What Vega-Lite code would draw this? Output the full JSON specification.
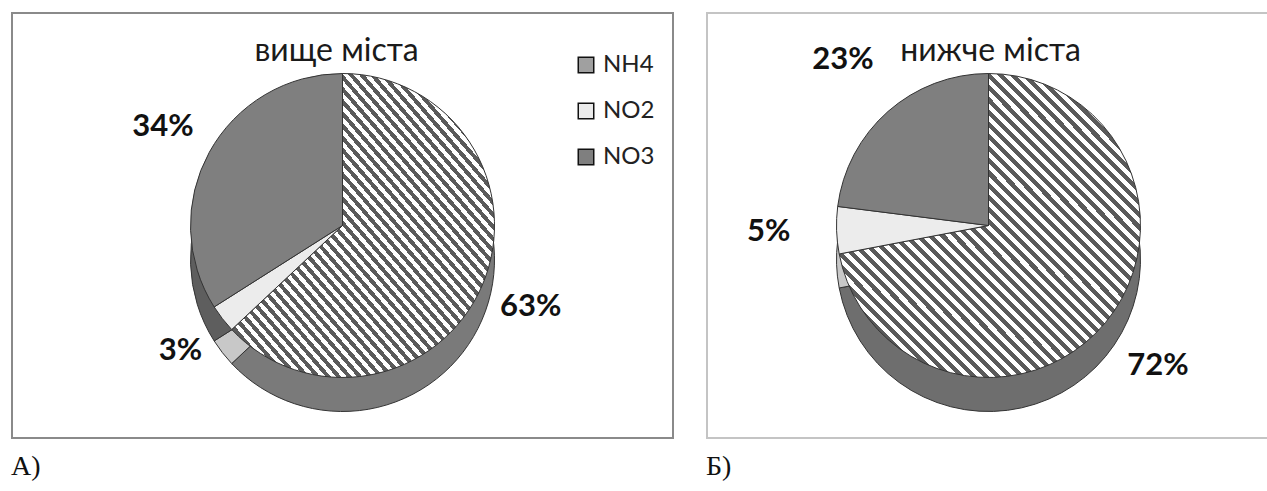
{
  "$schema": "https://vega.github.io/schema/vega-lite/v6.json",
  "padding": {"left": 11, "top": 12, "right": 0, "bottom": 0},
  "autosize": {"type": "pad"},
  "background": "white",
  "spacing": 32,
  "datasets": {
    "above": [
      {"k": "NH4", "v": 63, "label": "63%"},
      {"k": "NO2", "v": 3, "label": "3%"},
      {"k": "NO3", "v": 34, "label": "34%"}
    ],
    "below": [
      {"k": "NH4", "v": 72, "label": "72%"},
      {"k": "NO2", "v": 5, "label": "5%"},
      {"k": "NO3", "v": 23, "label": "23%"}
    ]
  },
  "config": {
    "font": "Lato",
    "legend": {
      "orient": "none",
      "title": null,
      "labelFont": "Lato",
      "labelFontSize": 24,
      "labelColor": "#222",
      "symbolType": "square",
      "symbolSize": 240,
      "symbolStrokeColor": "#111",
      "symbolStrokeWidth": 1.5,
      "rowPadding": 22,
      "labelOffset": 5
    },
    "title": {"font": "Lato", "fontWeight": "normal", "color": "#1a1a1a"}
  },
  "hconcat": [
    {
      "title": {"text": "А)", "orient": "bottom", "anchor": "start", "offset": 14, "font": "Liberation Serif", "fontSize": 28, "fontWeight": "normal", "color": "#111"},
      "vconcat": [
        {
          "width": 661,
          "height": 425,
          "view": {"stroke": "#8a8a8a", "strokeWidth": 2},
          "title": {"text": "вище міста", "orient": "top", "anchor": "middle", "offset": -55, "fontSize": 32, "dx": -6},
          "data": {"name": "above"},
          "layer": [
            {
              "mark": {"type": "arc", "radius": 152, "yOffset": 34, "stroke": "#333", "strokeWidth": 1},
              "encoding": {
                "theta": {"field": "v", "type": "quantitative", "stack": true},
                "order": {"field": "k", "type": "ordinal"},
                "fill": {
                  "condition": [
                    {"test": "datum.k === 'NH4'", "value": "#7a7a7a"},
                    {"test": "datum.k === 'NO2'", "value": "#c8c8c8"}
                  ],
                  "value": "#5e5e5e"
                }
              }
            },
            {
              "mark": {"type": "arc", "radius": 152, "stroke": "#333", "strokeWidth": 1},
              "encoding": {
                "theta": {"field": "v", "type": "quantitative", "stack": true},
                "order": {"field": "k", "type": "ordinal"},
                "fill": {
                  "condition": {"test": "datum.k === 'NH4'", "value": {"gradient": "linear", "x1": 0, "y1": 1, "x2": 1, "y2": 0, "stops": [
{"offset":0,"color":"#5a5a5a"},{"offset":0.01,"color":"#5a5a5a"},{"offset":0.01,"color":"#fff"},{"offset":0.02,"color":"#fff"},
{"offset":0.02,"color":"#5a5a5a"},{"offset":0.03,"color":"#5a5a5a"},{"offset":0.03,"color":"#fff"},{"offset":0.04,"color":"#fff"},
{"offset":0.04,"color":"#5a5a5a"},{"offset":0.05,"color":"#5a5a5a"},{"offset":0.05,"color":"#fff"},{"offset":0.06,"color":"#fff"},
{"offset":0.06,"color":"#5a5a5a"},{"offset":0.07,"color":"#5a5a5a"},{"offset":0.07,"color":"#fff"},{"offset":0.08,"color":"#fff"},
{"offset":0.08,"color":"#5a5a5a"},{"offset":0.09,"color":"#5a5a5a"},{"offset":0.09,"color":"#fff"},{"offset":0.1,"color":"#fff"},
{"offset":0.1,"color":"#5a5a5a"},{"offset":0.11,"color":"#5a5a5a"},{"offset":0.11,"color":"#fff"},{"offset":0.12,"color":"#fff"},
{"offset":0.12,"color":"#5a5a5a"},{"offset":0.13,"color":"#5a5a5a"},{"offset":0.13,"color":"#fff"},{"offset":0.14,"color":"#fff"},
{"offset":0.14,"color":"#5a5a5a"},{"offset":0.15,"color":"#5a5a5a"},{"offset":0.15,"color":"#fff"},{"offset":0.16,"color":"#fff"},
{"offset":0.16,"color":"#5a5a5a"},{"offset":0.17,"color":"#5a5a5a"},{"offset":0.17,"color":"#fff"},{"offset":0.18,"color":"#fff"},
{"offset":0.18,"color":"#5a5a5a"},{"offset":0.19,"color":"#5a5a5a"},{"offset":0.19,"color":"#fff"},{"offset":0.2,"color":"#fff"},
{"offset":0.2,"color":"#5a5a5a"},{"offset":0.21,"color":"#5a5a5a"},{"offset":0.21,"color":"#fff"},{"offset":0.22,"color":"#fff"},
{"offset":0.22,"color":"#5a5a5a"},{"offset":0.23,"color":"#5a5a5a"},{"offset":0.23,"color":"#fff"},{"offset":0.24,"color":"#fff"},
{"offset":0.24,"color":"#5a5a5a"},{"offset":0.25,"color":"#5a5a5a"},{"offset":0.25,"color":"#fff"},{"offset":0.26,"color":"#fff"},
{"offset":0.26,"color":"#5a5a5a"},{"offset":0.27,"color":"#5a5a5a"},{"offset":0.27,"color":"#fff"},{"offset":0.28,"color":"#fff"},
{"offset":0.28,"color":"#5a5a5a"},{"offset":0.29,"color":"#5a5a5a"},{"offset":0.29,"color":"#fff"},{"offset":0.3,"color":"#fff"},
{"offset":0.3,"color":"#5a5a5a"},{"offset":0.31,"color":"#5a5a5a"},{"offset":0.31,"color":"#fff"},{"offset":0.32,"color":"#fff"},
{"offset":0.32,"color":"#5a5a5a"},{"offset":0.33,"color":"#5a5a5a"},{"offset":0.33,"color":"#fff"},{"offset":0.34,"color":"#fff"},
{"offset":0.34,"color":"#5a5a5a"},{"offset":0.35,"color":"#5a5a5a"},{"offset":0.35,"color":"#fff"},{"offset":0.36,"color":"#fff"},
{"offset":0.36,"color":"#5a5a5a"},{"offset":0.37,"color":"#5a5a5a"},{"offset":0.37,"color":"#fff"},{"offset":0.38,"color":"#fff"},
{"offset":0.38,"color":"#5a5a5a"},{"offset":0.39,"color":"#5a5a5a"},{"offset":0.39,"color":"#fff"},{"offset":0.4,"color":"#fff"},
{"offset":0.4,"color":"#5a5a5a"},{"offset":0.41,"color":"#5a5a5a"},{"offset":0.41,"color":"#fff"},{"offset":0.42,"color":"#fff"},
{"offset":0.42,"color":"#5a5a5a"},{"offset":0.43,"color":"#5a5a5a"},{"offset":0.43,"color":"#fff"},{"offset":0.44,"color":"#fff"},
{"offset":0.44,"color":"#5a5a5a"},{"offset":0.45,"color":"#5a5a5a"},{"offset":0.45,"color":"#fff"},{"offset":0.46,"color":"#fff"},
{"offset":0.46,"color":"#5a5a5a"},{"offset":0.47,"color":"#5a5a5a"},{"offset":0.47,"color":"#fff"},{"offset":0.48,"color":"#fff"},
{"offset":0.48,"color":"#5a5a5a"},{"offset":0.49,"color":"#5a5a5a"},{"offset":0.49,"color":"#fff"},{"offset":0.5,"color":"#fff"},
{"offset":0.5,"color":"#5a5a5a"},{"offset":0.51,"color":"#5a5a5a"},{"offset":0.51,"color":"#fff"},{"offset":0.52,"color":"#fff"},
{"offset":0.52,"color":"#5a5a5a"},{"offset":0.53,"color":"#5a5a5a"},{"offset":0.53,"color":"#fff"},{"offset":0.54,"color":"#fff"},
{"offset":0.54,"color":"#5a5a5a"},{"offset":0.55,"color":"#5a5a5a"},{"offset":0.55,"color":"#fff"},{"offset":0.56,"color":"#fff"},
{"offset":0.56,"color":"#5a5a5a"},{"offset":0.57,"color":"#5a5a5a"},{"offset":0.57,"color":"#fff"},{"offset":0.58,"color":"#fff"},
{"offset":0.58,"color":"#5a5a5a"},{"offset":0.59,"color":"#5a5a5a"},{"offset":0.59,"color":"#fff"},{"offset":0.6,"color":"#fff"},
{"offset":0.6,"color":"#5a5a5a"},{"offset":0.61,"color":"#5a5a5a"},{"offset":0.61,"color":"#fff"},{"offset":0.62,"color":"#fff"},
{"offset":0.62,"color":"#5a5a5a"},{"offset":0.63,"color":"#5a5a5a"},{"offset":0.63,"color":"#fff"},{"offset":0.64,"color":"#fff"},
{"offset":0.64,"color":"#5a5a5a"},{"offset":0.65,"color":"#5a5a5a"},{"offset":0.65,"color":"#fff"},{"offset":0.66,"color":"#fff"},
{"offset":0.66,"color":"#5a5a5a"},{"offset":0.67,"color":"#5a5a5a"},{"offset":0.67,"color":"#fff"},{"offset":0.68,"color":"#fff"},
{"offset":0.68,"color":"#5a5a5a"},{"offset":0.69,"color":"#5a5a5a"},{"offset":0.69,"color":"#fff"},{"offset":0.7,"color":"#fff"},
{"offset":0.7,"color":"#5a5a5a"},{"offset":0.71,"color":"#5a5a5a"},{"offset":0.71,"color":"#fff"},{"offset":0.72,"color":"#fff"},
{"offset":0.72,"color":"#5a5a5a"},{"offset":0.73,"color":"#5a5a5a"},{"offset":0.73,"color":"#fff"},{"offset":0.74,"color":"#fff"},
{"offset":0.74,"color":"#5a5a5a"},{"offset":0.75,"color":"#5a5a5a"},{"offset":0.75,"color":"#fff"},{"offset":0.76,"color":"#fff"},
{"offset":0.76,"color":"#5a5a5a"},{"offset":0.77,"color":"#5a5a5a"},{"offset":0.77,"color":"#fff"},{"offset":0.78,"color":"#fff"},
{"offset":0.78,"color":"#5a5a5a"},{"offset":0.79,"color":"#5a5a5a"},{"offset":0.79,"color":"#fff"},{"offset":0.8,"color":"#fff"},
{"offset":0.8,"color":"#5a5a5a"},{"offset":0.81,"color":"#5a5a5a"},{"offset":0.81,"color":"#fff"},{"offset":0.82,"color":"#fff"},
{"offset":0.82,"color":"#5a5a5a"},{"offset":0.83,"color":"#5a5a5a"},{"offset":0.83,"color":"#fff"},{"offset":0.84,"color":"#fff"},
{"offset":0.84,"color":"#5a5a5a"},{"offset":0.85,"color":"#5a5a5a"},{"offset":0.85,"color":"#fff"},{"offset":0.86,"color":"#fff"},
{"offset":0.86,"color":"#5a5a5a"},{"offset":0.87,"color":"#5a5a5a"},{"offset":0.87,"color":"#fff"},{"offset":0.88,"color":"#fff"},
{"offset":0.88,"color":"#5a5a5a"},{"offset":0.89,"color":"#5a5a5a"},{"offset":0.89,"color":"#fff"},{"offset":0.9,"color":"#fff"},
{"offset":0.9,"color":"#5a5a5a"},{"offset":0.91,"color":"#5a5a5a"},{"offset":0.91,"color":"#fff"},{"offset":0.92,"color":"#fff"},
{"offset":0.92,"color":"#5a5a5a"},{"offset":0.93,"color":"#5a5a5a"},{"offset":0.93,"color":"#fff"},{"offset":0.94,"color":"#fff"},
{"offset":0.94,"color":"#5a5a5a"},{"offset":0.95,"color":"#5a5a5a"},{"offset":0.95,"color":"#fff"},{"offset":0.96,"color":"#fff"},
{"offset":0.96,"color":"#5a5a5a"},{"offset":0.97,"color":"#5a5a5a"},{"offset":0.97,"color":"#fff"},{"offset":0.98,"color":"#fff"},
{"offset":0.98,"color":"#5a5a5a"},{"offset":0.99,"color":"#5a5a5a"},{"offset":0.99,"color":"#fff"},{"offset":1,"color":"#fff"}
                  ]}},
                  "field": "k",
                  "type": "nominal",
                  "scale": {"domain": ["NH4", "NO2", "NO3"], "range": ["#a0a0a0", "#ececec", "#7f7f7f"]},
                  "legend": {"legendX": 562, "legendY": 40}
                }
              }
            },
            {
              "mark": {"type": "text", "radius": 205, "font": "Lato", "fontSize": 31, "fontWeight": "bold", "fill": "#111"},
              "encoding": {
                "theta": {"field": "v", "type": "quantitative", "stack": true},
                "order": {"field": "k", "type": "ordinal"},
                "text": {"field": "label"}
              }
            }
          ]
        }
      ]
    },
    {
      "title": {"text": "Б)", "orient": "bottom", "anchor": "start", "offset": 14, "font": "Liberation Serif", "fontSize": 28, "fontWeight": "normal", "color": "#111"},
      "vconcat": [
        {
          "width": 563,
          "height": 425,
          "view": {"stroke": "#c4c4c4", "strokeWidth": 2},
          "title": {"text": "нижче міста", "orient": "top", "anchor": "middle", "offset": -55, "fontSize": 32, "dx": 2},
          "data": {"name": "below"},
          "layer": [
            {
              "mark": {"type": "arc", "radius": 152, "yOffset": 34, "stroke": "#333", "strokeWidth": 1},
              "encoding": {
                "theta": {"field": "v", "type": "quantitative", "stack": true},
                "order": {"field": "k", "type": "ordinal"},
                "fill": {
                  "condition": [
                    {"test": "datum.k === 'NH4'", "value": "#6e6e6e"},
                    {"test": "datum.k === 'NO2'", "value": "#c8c8c8"}
                  ],
                  "value": "#5e5e5e"
                }
              }
            },
            {
              "mark": {"type": "arc", "radius": 152, "stroke": "#333", "strokeWidth": 1},
              "encoding": {
                "theta": {"field": "v", "type": "quantitative", "stack": true},
                "order": {"field": "k", "type": "ordinal"},
                "fill": {
                  "condition": {"test": "datum.k === 'NH4'", "value": {"gradient": "linear", "x1": 0, "y1": 1, "x2": 1, "y2": 0, "stops": [
{"offset":0,"color":"#5a5a5a"},{"offset":0.01,"color":"#5a5a5a"},{"offset":0.01,"color":"#fff"},{"offset":0.02,"color":"#fff"},
{"offset":0.02,"color":"#5a5a5a"},{"offset":0.03,"color":"#5a5a5a"},{"offset":0.03,"color":"#fff"},{"offset":0.04,"color":"#fff"},
{"offset":0.04,"color":"#5a5a5a"},{"offset":0.05,"color":"#5a5a5a"},{"offset":0.05,"color":"#fff"},{"offset":0.06,"color":"#fff"},
{"offset":0.06,"color":"#5a5a5a"},{"offset":0.07,"color":"#5a5a5a"},{"offset":0.07,"color":"#fff"},{"offset":0.08,"color":"#fff"},
{"offset":0.08,"color":"#5a5a5a"},{"offset":0.09,"color":"#5a5a5a"},{"offset":0.09,"color":"#fff"},{"offset":0.1,"color":"#fff"},
{"offset":0.1,"color":"#5a5a5a"},{"offset":0.11,"color":"#5a5a5a"},{"offset":0.11,"color":"#fff"},{"offset":0.12,"color":"#fff"},
{"offset":0.12,"color":"#5a5a5a"},{"offset":0.13,"color":"#5a5a5a"},{"offset":0.13,"color":"#fff"},{"offset":0.14,"color":"#fff"},
{"offset":0.14,"color":"#5a5a5a"},{"offset":0.15,"color":"#5a5a5a"},{"offset":0.15,"color":"#fff"},{"offset":0.16,"color":"#fff"},
{"offset":0.16,"color":"#5a5a5a"},{"offset":0.17,"color":"#5a5a5a"},{"offset":0.17,"color":"#fff"},{"offset":0.18,"color":"#fff"},
{"offset":0.18,"color":"#5a5a5a"},{"offset":0.19,"color":"#5a5a5a"},{"offset":0.19,"color":"#fff"},{"offset":0.2,"color":"#fff"},
{"offset":0.2,"color":"#5a5a5a"},{"offset":0.21,"color":"#5a5a5a"},{"offset":0.21,"color":"#fff"},{"offset":0.22,"color":"#fff"},
{"offset":0.22,"color":"#5a5a5a"},{"offset":0.23,"color":"#5a5a5a"},{"offset":0.23,"color":"#fff"},{"offset":0.24,"color":"#fff"},
{"offset":0.24,"color":"#5a5a5a"},{"offset":0.25,"color":"#5a5a5a"},{"offset":0.25,"color":"#fff"},{"offset":0.26,"color":"#fff"},
{"offset":0.26,"color":"#5a5a5a"},{"offset":0.27,"color":"#5a5a5a"},{"offset":0.27,"color":"#fff"},{"offset":0.28,"color":"#fff"},
{"offset":0.28,"color":"#5a5a5a"},{"offset":0.29,"color":"#5a5a5a"},{"offset":0.29,"color":"#fff"},{"offset":0.3,"color":"#fff"},
{"offset":0.3,"color":"#5a5a5a"},{"offset":0.31,"color":"#5a5a5a"},{"offset":0.31,"color":"#fff"},{"offset":0.32,"color":"#fff"},
{"offset":0.32,"color":"#5a5a5a"},{"offset":0.33,"color":"#5a5a5a"},{"offset":0.33,"color":"#fff"},{"offset":0.34,"color":"#fff"},
{"offset":0.34,"color":"#5a5a5a"},{"offset":0.35,"color":"#5a5a5a"},{"offset":0.35,"color":"#fff"},{"offset":0.36,"color":"#fff"},
{"offset":0.36,"color":"#5a5a5a"},{"offset":0.37,"color":"#5a5a5a"},{"offset":0.37,"color":"#fff"},{"offset":0.38,"color":"#fff"},
{"offset":0.38,"color":"#5a5a5a"},{"offset":0.39,"color":"#5a5a5a"},{"offset":0.39,"color":"#fff"},{"offset":0.4,"color":"#fff"},
{"offset":0.4,"color":"#5a5a5a"},{"offset":0.41,"color":"#5a5a5a"},{"offset":0.41,"color":"#fff"},{"offset":0.42,"color":"#fff"},
{"offset":0.42,"color":"#5a5a5a"},{"offset":0.43,"color":"#5a5a5a"},{"offset":0.43,"color":"#fff"},{"offset":0.44,"color":"#fff"},
{"offset":0.44,"color":"#5a5a5a"},{"offset":0.45,"color":"#5a5a5a"},{"offset":0.45,"color":"#fff"},{"offset":0.46,"color":"#fff"},
{"offset":0.46,"color":"#5a5a5a"},{"offset":0.47,"color":"#5a5a5a"},{"offset":0.47,"color":"#fff"},{"offset":0.48,"color":"#fff"},
{"offset":0.48,"color":"#5a5a5a"},{"offset":0.49,"color":"#5a5a5a"},{"offset":0.49,"color":"#fff"},{"offset":0.5,"color":"#fff"},
{"offset":0.5,"color":"#5a5a5a"},{"offset":0.51,"color":"#5a5a5a"},{"offset":0.51,"color":"#fff"},{"offset":0.52,"color":"#fff"},
{"offset":0.52,"color":"#5a5a5a"},{"offset":0.53,"color":"#5a5a5a"},{"offset":0.53,"color":"#fff"},{"offset":0.54,"color":"#fff"},
{"offset":0.54,"color":"#5a5a5a"},{"offset":0.55,"color":"#5a5a5a"},{"offset":0.55,"color":"#fff"},{"offset":0.56,"color":"#fff"},
{"offset":0.56,"color":"#5a5a5a"},{"offset":0.57,"color":"#5a5a5a"},{"offset":0.57,"color":"#fff"},{"offset":0.58,"color":"#fff"},
{"offset":0.58,"color":"#5a5a5a"},{"offset":0.59,"color":"#5a5a5a"},{"offset":0.59,"color":"#fff"},{"offset":0.6,"color":"#fff"},
{"offset":0.6,"color":"#5a5a5a"},{"offset":0.61,"color":"#5a5a5a"},{"offset":0.61,"color":"#fff"},{"offset":0.62,"color":"#fff"},
{"offset":0.62,"color":"#5a5a5a"},{"offset":0.63,"color":"#5a5a5a"},{"offset":0.63,"color":"#fff"},{"offset":0.64,"color":"#fff"},
{"offset":0.64,"color":"#5a5a5a"},{"offset":0.65,"color":"#5a5a5a"},{"offset":0.65,"color":"#fff"},{"offset":0.66,"color":"#fff"},
{"offset":0.66,"color":"#5a5a5a"},{"offset":0.67,"color":"#5a5a5a"},{"offset":0.67,"color":"#fff"},{"offset":0.68,"color":"#fff"},
{"offset":0.68,"color":"#5a5a5a"},{"offset":0.69,"color":"#5a5a5a"},{"offset":0.69,"color":"#fff"},{"offset":0.7,"color":"#fff"},
{"offset":0.7,"color":"#5a5a5a"},{"offset":0.71,"color":"#5a5a5a"},{"offset":0.71,"color":"#fff"},{"offset":0.72,"color":"#fff"},
{"offset":0.72,"color":"#5a5a5a"},{"offset":0.73,"color":"#5a5a5a"},{"offset":0.73,"color":"#fff"},{"offset":0.74,"color":"#fff"},
{"offset":0.74,"color":"#5a5a5a"},{"offset":0.75,"color":"#5a5a5a"},{"offset":0.75,"color":"#fff"},{"offset":0.76,"color":"#fff"},
{"offset":0.76,"color":"#5a5a5a"},{"offset":0.77,"color":"#5a5a5a"},{"offset":0.77,"color":"#fff"},{"offset":0.78,"color":"#fff"},
{"offset":0.78,"color":"#5a5a5a"},{"offset":0.79,"color":"#5a5a5a"},{"offset":0.79,"color":"#fff"},{"offset":0.8,"color":"#fff"},
{"offset":0.8,"color":"#5a5a5a"},{"offset":0.81,"color":"#5a5a5a"},{"offset":0.81,"color":"#fff"},{"offset":0.82,"color":"#fff"},
{"offset":0.82,"color":"#5a5a5a"},{"offset":0.83,"color":"#5a5a5a"},{"offset":0.83,"color":"#fff"},{"offset":0.84,"color":"#fff"},
{"offset":0.84,"color":"#5a5a5a"},{"offset":0.85,"color":"#5a5a5a"},{"offset":0.85,"color":"#fff"},{"offset":0.86,"color":"#fff"},
{"offset":0.86,"color":"#5a5a5a"},{"offset":0.87,"color":"#5a5a5a"},{"offset":0.87,"color":"#fff"},{"offset":0.88,"color":"#fff"},
{"offset":0.88,"color":"#5a5a5a"},{"offset":0.89,"color":"#5a5a5a"},{"offset":0.89,"color":"#fff"},{"offset":0.9,"color":"#fff"},
{"offset":0.9,"color":"#5a5a5a"},{"offset":0.91,"color":"#5a5a5a"},{"offset":0.91,"color":"#fff"},{"offset":0.92,"color":"#fff"},
{"offset":0.92,"color":"#5a5a5a"},{"offset":0.93,"color":"#5a5a5a"},{"offset":0.93,"color":"#fff"},{"offset":0.94,"color":"#fff"},
{"offset":0.94,"color":"#5a5a5a"},{"offset":0.95,"color":"#5a5a5a"},{"offset":0.95,"color":"#fff"},{"offset":0.96,"color":"#fff"},
{"offset":0.96,"color":"#5a5a5a"},{"offset":0.97,"color":"#5a5a5a"},{"offset":0.97,"color":"#fff"},{"offset":0.98,"color":"#fff"},
{"offset":0.98,"color":"#5a5a5a"},{"offset":0.99,"color":"#5a5a5a"},{"offset":0.99,"color":"#fff"},{"offset":1,"color":"#fff"}
                  ]}},
                  "field": "k",
                  "type": "nominal",
                  "scale": {"domain": ["NH4", "NO2", "NO3"], "range": ["#a0a0a0", "#e4e4e4", "#7a7a7a"]},
                  "legend": {"legendX": 481, "legendY": 40}
                }
              }
            },
            {
              "mark": {"type": "text", "radius": 220, "font": "Lato", "fontSize": 31, "fontWeight": "bold", "fill": "#111"},
              "encoding": {
                "theta": {"field": "v", "type": "quantitative", "stack": true},
                "order": {"field": "k", "type": "ordinal"},
                "text": {"field": "label"}
              }
            }
          ]
        }
      ]
    }
  ]
}
